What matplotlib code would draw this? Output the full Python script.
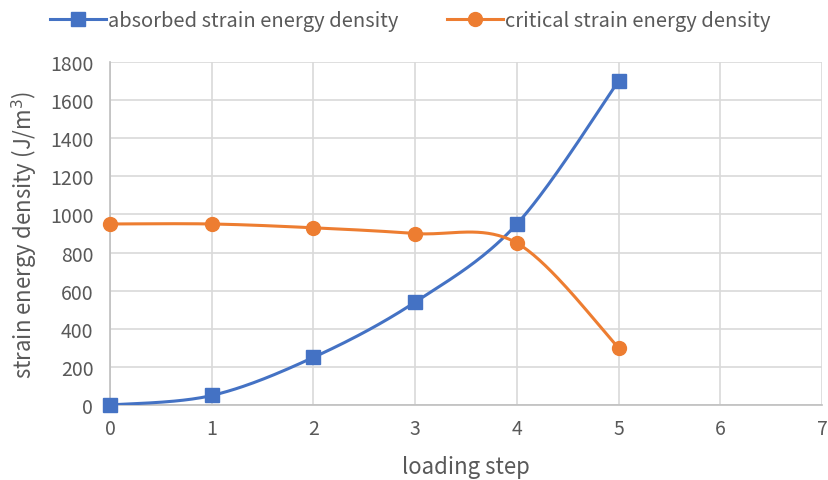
import numpy as np
import matplotlib
matplotlib.use("Agg")
import matplotlib.pyplot as plt

plt.rcParams['font.family'] = ['Noto Sans CJK SC', 'DejaVu Sans']

steps = [0, 1, 2, 3, 4, 5]
absorbed = [0, 50, 250, 540, 950, 1700]
critical = [950, 950, 930, 900, 850, 300]

BLUE = '#4472c4'
ORANGE = '#ed7d31'
TEXT = '#595959'


def smooth(xs, ys, n=40):
    # Excel-like smoothed line (Catmull-Rom as cubic Bezier)
    p = np.column_stack([xs, ys]).astype(float)
    p = np.vstack([p[0], p, p[-1]])
    out = []
    t = np.linspace(0, 1, n)[:, None]
    for i in range(1, len(p) - 2):
        p0, p3 = p[i], p[i + 1]
        c1 = p0 + (p[i + 1] - p[i - 1]) / 6
        c2 = p3 - (p[i + 2] - p[i]) / 6
        seg = ((1 - t) ** 3) * p0 + 3 * ((1 - t) ** 2) * t * c1 + 3 * (1 - t) * t ** 2 * c2 + t ** 3 * p3
        out.append(seg if i == 1 else seg[1:])
    out = np.vstack(out)
    return out[:, 0], out[:, 1]


fig = plt.figure(figsize=(8.29, 4.81), dpi=100)
ax = fig.add_axes([0.1327, 0.1559, 0.8589, 0.7131])

for ys, col, mk, lab in [(absorbed, BLUE, 's', 'absorbed strain energy density'),
                         (critical, ORANGE, 'o', 'critical strain energy density')]:
    sx, sy = smooth(steps, ys)
    ax.plot(sx, sy, color=col, lw=2.2, zorder=3)
    ax.plot(steps, ys, linestyle='none', marker=mk, ms=10, color=col, zorder=4, clip_on=False)
    ax.plot([], [], color=col, lw=2.2, marker=mk, ms=10, label=lab)

ax.set_xlim(0, 7)
ax.set_ylim(0, 1800)
ax.set_xticks(range(0, 8))
ax.set_yticks(range(0, 1801, 200))
ax.grid(True, color='#d9d9d9', lw=1.2)
ax.set_axisbelow(True)
for s in ['top', 'right']:
    ax.spines[s].set_visible(False)
for s in ['left', 'bottom']:
    ax.spines[s].set_color('#bfbfbf')
    ax.spines[s].set_linewidth(1.2)
ax.tick_params(length=0, labelsize=14, labelcolor=TEXT)
ax.tick_params(axis='y', pad=12)
ax.tick_params(axis='x', pad=9)
ax.set_xlabel('loading step', fontsize=16, color=TEXT, labelpad=12)
ax.set_ylabel('strain energy density (J/m$^3$)', fontsize=16, color=TEXT, labelpad=8)

fig.legend(loc='upper center', bbox_to_anchor=(0.495, 1.015), ncol=2, frameon=False,
           fontsize=14.5, labelcolor=TEXT, handlelength=2.8, columnspacing=2.4, handletextpad=0.1)

fig.savefig('out.png', dpi=100)
